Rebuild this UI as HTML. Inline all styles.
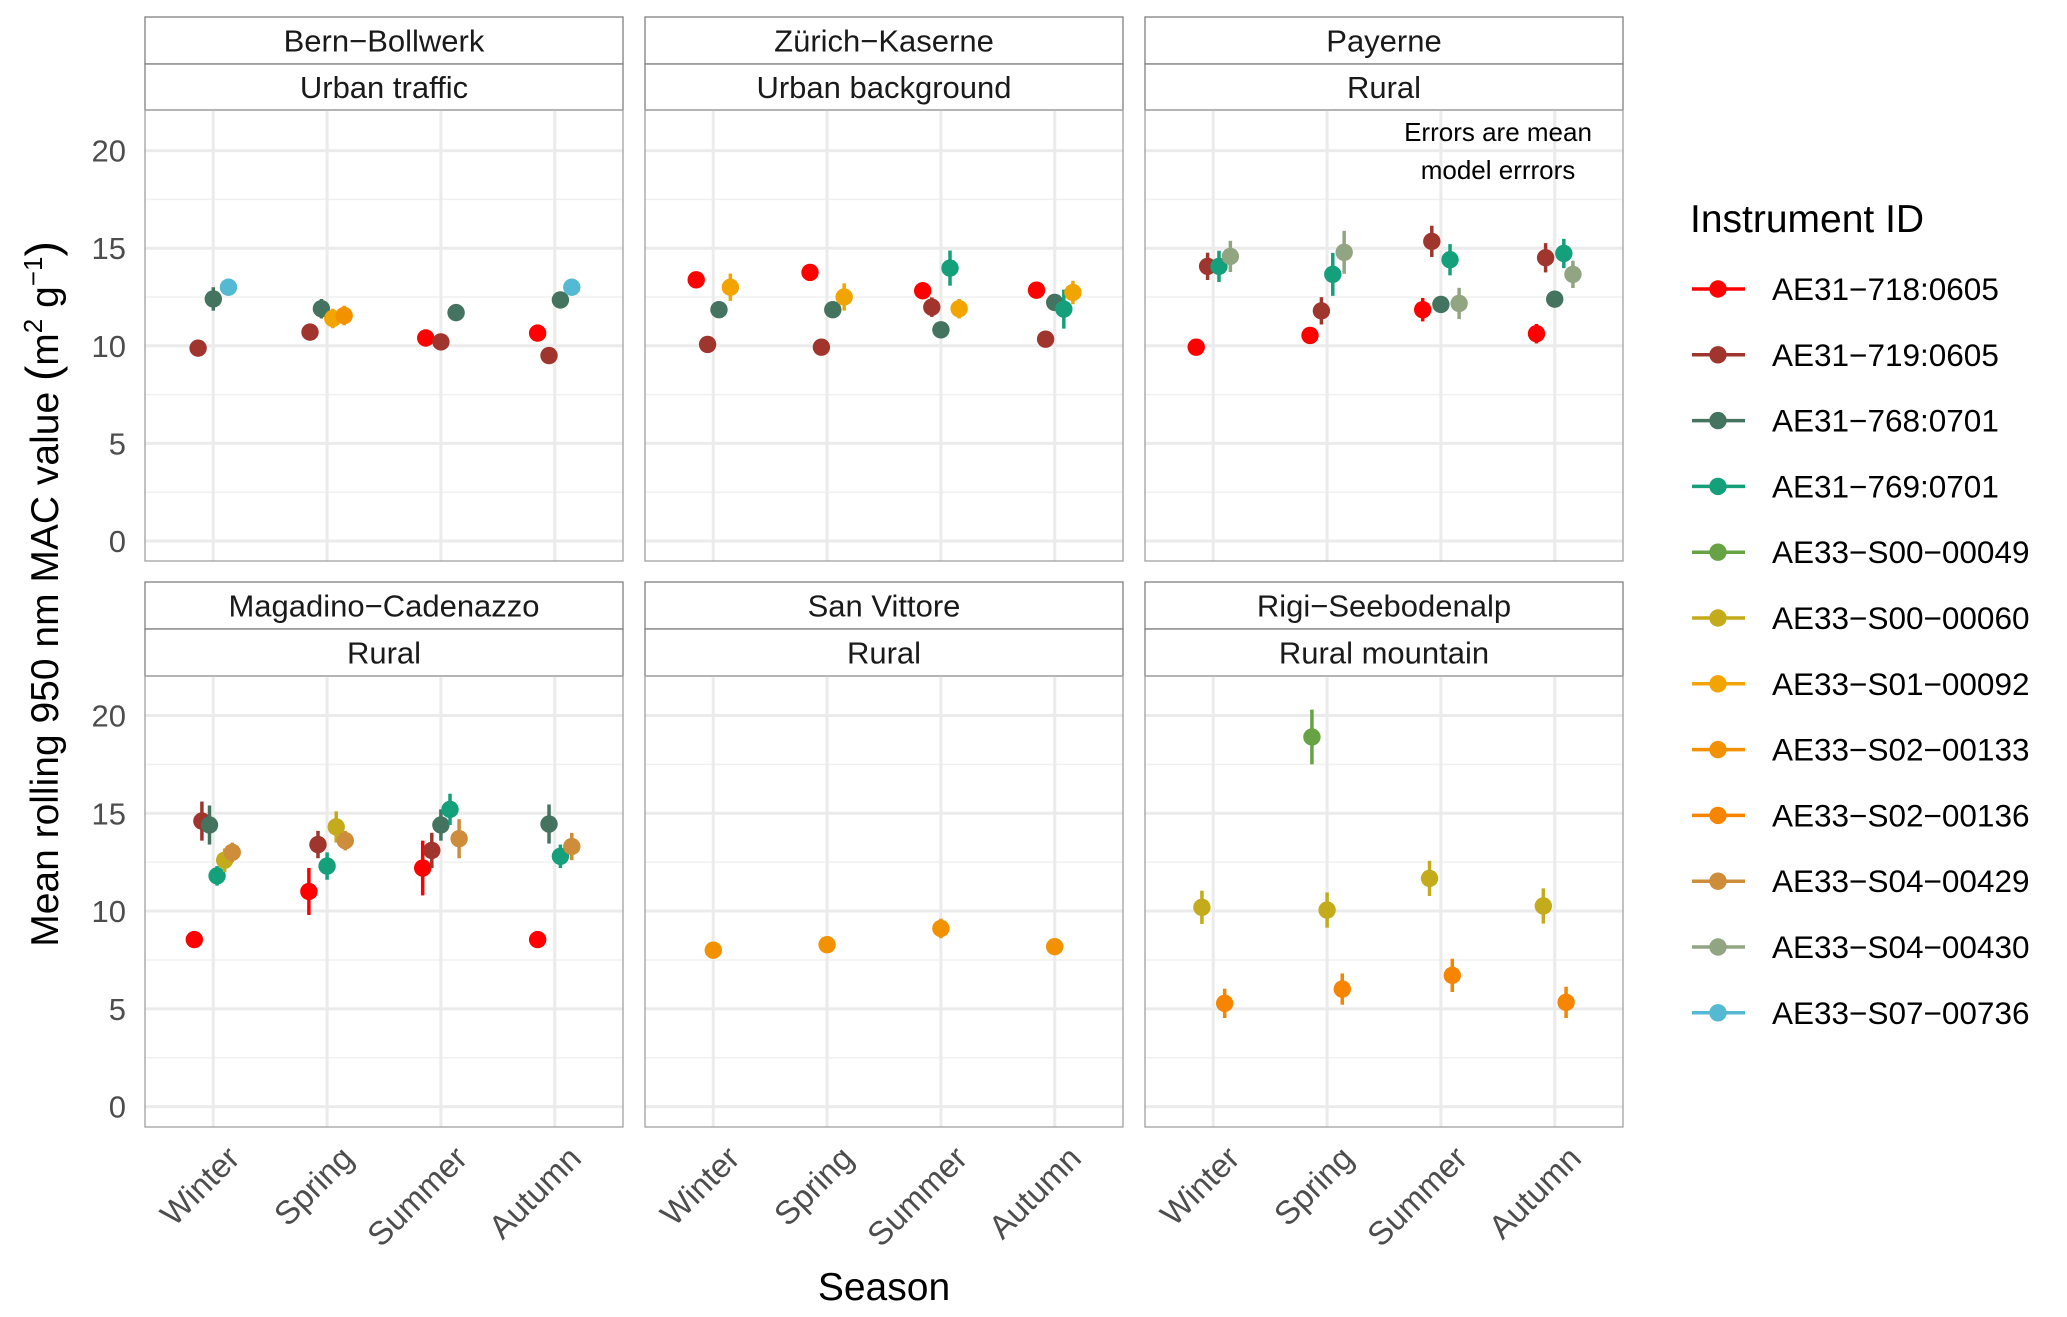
<!DOCTYPE html>
<html><head><meta charset="utf-8">
<style>
html,body{margin:0;padding:0;background:#fff;}
svg{display:block;font-family:"Liberation Sans",sans-serif;}
</style></head>
<body>
<svg id="chart" width="2067" height="1317" viewBox="0 0 2067 1317" xmlns="http://www.w3.org/2000/svg">
<rect x="0" y="0" width="2067" height="1317" fill="#fff"/>
<g id="panels"></g>
<text transform="translate(58,594) rotate(-90)" text-anchor="middle" font-size="39" fill="#000">Mean rolling 950 nm MAC value <tspan font-size="46">(</tspan>m<tspan font-size="26" dy="-16">2</tspan><tspan dy="16"> g</tspan><tspan font-size="26" dy="-16">−1</tspan><tspan dy="16" font-size="46">)</tspan></text>
<text x="884" y="1300" text-anchor="middle" font-size="39" fill="#000">Season</text>
<g id="legend"></g>
</svg>
<script>
const seasons = ["Winter","Spring","Summer","Autumn"];
const yTicks = [0,5,10,15,20];
const instruments = ["AE31−718:0605","AE31−719:0605","AE31−768:0701","AE31−769:0701","AE33−S00−00049","AE33−S00−00060","AE33−S01−00092","AE33−S02−00133","AE33−S02−00136","AE33−S04−00429","AE33−S04−00430","AE33−S07−00736"];
const instrumentColors = ["#ff0000","#a0352d","#44735f","#14a07a","#67a344","#c4ab1c","#f2a500","#f39200","#f78500","#cd8d3a","#92a583","#55b9d3"];
const sites = ["Bern−Bollwerk","Zürich−Kaserne","Payerne","Magadino−Cadenazzo","San Vittore","Rigi−Seebodenalp"];
const siteTypes = ["Urban traffic","Urban background","Rural","Rural","Rural","Rural mountain"];
// records: [seasonIndex, instrumentIndex, value, error]
const bernData = [[0,1,9.88,0.2],[0,2,12.4,0.6],[0,11,13.0,0.2],[1,1,10.7,0.2],[1,2,11.9,0.5],[1,6,11.4,0.5],[1,7,11.55,0.5],[2,0,10.4,0.2],[2,1,10.2,0.2],[2,2,11.7,0.2],[3,0,10.65,0.2],[3,1,9.5,0.2],[3,2,12.35,0.4],[3,11,13.0,0.2]];
const zurichData = [[0,0,13.38,0.2],[0,1,10.07,0.2],[0,2,11.85,0.2],[0,6,13.0,0.7],[1,0,13.76,0.2],[1,1,9.93,0.2],[1,2,11.85,0.2],[1,6,12.5,0.7],[2,0,12.82,0.2],[2,1,11.98,0.5],[2,2,10.82,0.2],[2,3,13.98,0.9],[2,6,11.9,0.5],[3,0,12.85,0.2],[3,1,10.34,0.2],[3,2,12.22,0.3],[3,3,11.88,1.0],[3,6,12.73,0.6]];
const payerneData = [[0,0,9.93,0.2],[0,1,14.07,0.7],[0,3,14.07,0.8],[0,10,14.58,0.8],[1,0,10.53,0.3],[1,1,11.79,0.7],[1,3,13.66,1.1],[1,10,14.79,1.1],[2,0,11.85,0.6],[2,1,15.35,0.8],[2,2,12.12,0.2],[2,3,14.41,0.8],[2,10,12.17,0.8],[3,0,10.62,0.5],[3,1,14.51,0.75],[3,2,12.39,0.2],[3,3,14.73,0.75],[3,10,13.66,0.7]];
const magadinoData = [[0,0,8.54,0.4],[0,1,14.6,1.0],[0,2,14.4,1.0],[0,3,11.8,0.5],[0,5,12.6,0.6],[0,9,13.0,0.5],[1,0,11.0,1.2],[1,1,13.4,0.7],[1,3,12.3,0.7],[1,5,14.3,0.8],[1,9,13.6,0.5],[2,0,12.2,1.4],[2,1,13.1,0.9],[2,2,14.4,0.8],[2,3,15.2,0.8],[2,9,13.7,1.0],[3,0,8.54,0.4],[3,2,14.45,1.0],[3,3,12.8,0.6],[3,9,13.3,0.7]];
const vittoreData = [[0,7,8.0,0.2],[1,7,8.28,0.2],[2,7,9.11,0.5],[3,7,8.18,0.2]];
const rigiData = [[0,5,10.19,0.85],[0,8,5.28,0.75],[1,4,18.9,1.4],[1,5,10.05,0.9],[1,8,6.01,0.8],[2,5,11.67,0.9],[2,8,6.71,0.85],[3,5,10.26,0.9],[3,8,5.33,0.8]];
const panelData = [bernData, zurichData, payerneData, magadinoData, vittoreData, rigiData];

const NS = "http://www.w3.org/2000/svg";
function mk(tag, attrs, parent){const e=document.createElementNS(NS,tag);for(const k in attrs)e.setAttribute(k,attrs[k]);parent.appendChild(e);return e;}
const panelsG = document.getElementById('panels');
const colX = [145,645,1145], panelW = 478;
const rowLayout = [{stripTop:17,strip2:64,plotTop:110,plotBot:561,y0:541,y20:150.6},{stripTop:582,strip2:629,plotTop:676,plotBot:1127,y0:1106.6,y20:715.5}];

sites.forEach((site, p) => {
  const col = p % 3, row = Math.floor(p/3), L = rowLayout[row];
  const left = colX[col], right = left + panelW;
  const band = panelW / 4.2;
  const xScale = s => left + (0.6 + s) * band;
  const yScale = v => L.y0 + (L.y20 - L.y0) * v / 20;
  const g = mk('g', {}, panelsG);
  
  
  const s1 = mk('rect', {x:left, y:L.stripTop, width:panelW, height:L.strip2-L.stripTop, fill:'#fff', stroke:'#7f7f7f', 'stroke-width':1.3}, g);
  
  
  const s2 = mk('rect', {x:left, y:L.strip2, width:panelW, height:L.plotTop-L.strip2, fill:'#fff', stroke:'#7f7f7f', 'stroke-width':1.3}, g);
  
  
  const t1 = mk('text', {x:left+panelW/2, y:(L.stripTop+L.strip2)/2+11, 'text-anchor':'middle', 'font-size':31, fill:'#1a1a1a'}, g);
  t1.textContent = site;
  
  
  const t2 = mk('text', {x:left+panelW/2, y:(L.strip2+L.plotTop)/2+11, 'text-anchor':'middle', 'font-size':31, fill:'#1a1a1a'}, g);
  t2.textContent = siteTypes[p];
  
  
  for (let i=0;i<yTicks.length-1;i++){
    const v=(yTicks[i]+yTicks[i+1])/2;
    const ln = mk('line',{x1:left,x2:right,y1:yScale(v),y2:yScale(v),stroke:'#f0f0f0','stroke-width':1.5},g);
    
    
  }
  yTicks.forEach(v=>{
    const ln = mk('line',{x1:left,x2:right,y1:yScale(v),y2:yScale(v),stroke:'#ebebeb','stroke-width':3},g);
    
    
  });
  seasons.forEach((s,i)=>{
    const ln = mk('line',{x1:xScale(i),x2:xScale(i),y1:L.plotTop,y2:L.plotBot,stroke:'#ebebeb','stroke-width':3},g);
    
    
  });
  const border = mk('rect',{x:left,y:L.plotTop,width:panelW,height:L.plotBot-L.plotTop,fill:'none',stroke:'#a0a0a0','stroke-width':1.3},g);
  
  
  if (col===0){
    yTicks.forEach(v=>{
      const t = mk('text',{x:126,y:yScale(v)+11,'text-anchor':'end','font-size':31,fill:'#4d4d4d'},g);
      t.textContent = v;
      
      
    });
  }
  if (row===1){
    seasons.forEach((s,i)=>{
      const t = mk('text',{transform:`translate(${xScale(i)+12},1144) rotate(-45)`,x:0,y:23,'text-anchor':'end','font-size':33,fill:'#4d4d4d'},g);
      t.textContent = s;
      
      
    });
  }
  const recs = panelData[p];
  seasons.forEach((s,si)=>{
    const grp = recs.filter(r=>r[0]===si).sort((a,b)=>a[1]-b[1]);
    const n = grp.length;
    grp.forEach((r,k)=>{
      const x = xScale(si) + 0.4*band*(k-(n-1)/2)/n;
      const c = instrumentColors[r[1]];
      const e = mk('line',{x1:x,x2:x,y1:yScale(r[2]-r[3]),y2:yScale(r[2]+r[3]),stroke:c,'stroke-width':3.5},g);
      
      
      const pt = mk('circle',{cx:x,cy:yScale(r[2]),r:8.7,fill:c},g);
      
      
    });
  });
  if (p===2){
    const a1 = mk('text',{x:1498,y:141,'text-anchor':'middle','font-size':26,fill:'#000'},g);
    a1.textContent='Errors are mean';
    
    
    const a2 = mk('text',{x:1498,y:179,'text-anchor':'middle','font-size':26,fill:'#000'},g);
    a2.textContent='model errrors';
    
    
  }
});

const lg = document.getElementById('legend');
const lt = mk('text',{x:1690,y:232,'font-size':39,fill:'#000'},lg);
lt.textContent='Instrument ID';


instruments.forEach((name,i)=>{
  const y = 289 + i*65.8;
  const eg = mk('g',{},lg);
  
  
  const ln = mk('line',{x1:1692,x2:1745,y1:y,y2:y,stroke:instrumentColors[i],'stroke-width':3.5},eg);
  
  
  const c = mk('circle',{cx:1718,cy:y,r:8.7,fill:instrumentColors[i]},eg);
  
  
  const t = mk('text',{x:1772,y:y+11,'font-size':31.5,fill:'#000'},eg);
  t.textContent = name;
  
  
});
</script>
</body></html>
